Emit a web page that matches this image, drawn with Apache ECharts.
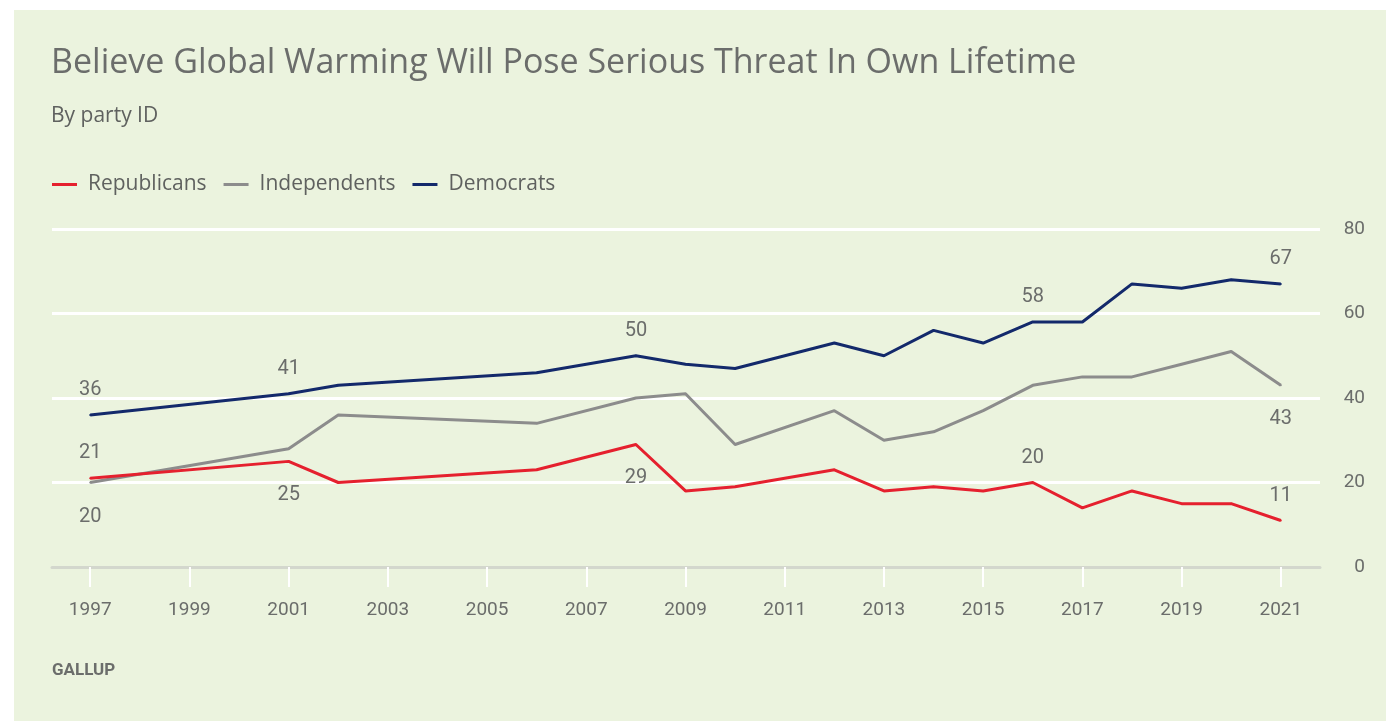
<!DOCTYPE html>
<html>
<head>
<meta charset="utf-8">
<script src="https://cdn.jsdelivr.net/npm/echarts@6/dist/echarts.min.js"></script>
<style>
html,body{margin:0;padding:0;background:#fff;}
#main{width:1386px;height:721px;background:linear-gradient(#ebf3de,#ebf3de) 14px 10px / 1372px 711px no-repeat,#fff;}
</style>
</head>
<body>
<div id="main"></div>
<script>
// ---- data ----
const years = [1997, 2001, 2002, 2006, 2008, 2009, 2010, 2012, 2013, 2014, 2015, 2016, 2017, 2018, 2019, 2020, 2021];
const republicans = [21, 25, 20, 23, 29, 18, 19, 23, 18, 19, 18, 20, 14, 18, 15, 15, 11];
const independents = [20, 28, 36, 34, 40, 41, 29, 37, 30, 32, 37, 43, 45, 45, 48, 51, 43];
const democrats = [36, 41, 43, 46, 50, 48, 47, 53, 50, 56, 53, 58, 58, 67, 66, 68, 67];
const xTickYears = [1997, 1999, 2001, 2003, 2005, 2007, 2009, 2011, 2013, 2015, 2017, 2019, 2021];
const yTicks = [0, 20, 40, 60, 80];
const seriesNames = ['Republicans', 'Independents', 'Democrats'];
// years whose value is printed on the chart
const repLabelYears = [1997, 2001, 2008, 2016, 2021];
const indLabelYears = [1997, 2021];
const demLabelYears = [1997, 2001, 2008, 2016, 2021];

// ---- styling (not data) ----
const textColor = '#6b6d6b';
const FONT = 'Roboto, "Liberation Sans", sans-serif';
const TFONT = '"Open Sans", Roboto, sans-serif';
const repLabelPos = {1997: 'top', 2001: 'bottom', 2008: 'bottom', 2016: 'top', 2021: 'top'};
const indLabelPos = {1997: 'bottom', 2021: 'bottom'};
const demLabelPos = {1997: 'top', 2001: 'top', 2008: 'top', 2016: 'top', 2021: 'top'};

function buildData(vals, labelYears, posMap) {
  return years.map((y, i) => {
    const item = { value: [y, vals[i]] };
    if (labelYears.indexOf(y) >= 0) {
      const pos = posMap[y];
      item.label = {
        show: true,
        position: pos,
        distance: pos === 'top' ? 14 : 23,
        formatter: String(vals[i]),
        color: textColor,
        fontSize: 20,
        fontFamily: FONT
      };
    }
    return item;
  });
}

const chart = echarts.init(document.getElementById('main'), null, { renderer: 'canvas' });
const colors = ['#e5202e', '#8c8c8c', '#13296b'];

function lineSeries(idx, vals, labelYears, posMap, z) {
  return {
    name: seriesNames[idx], type: 'line',
    symbol: 'circle', symbolSize: 2, showSymbol: true, showAllSymbol: true,
    itemStyle: { color: colors[idx] },
    lineStyle: { width: 3, color: colors[idx] },
    label: { show: false },
    emphasis: { disabled: true },
    data: buildData(vals, labelYears, posMap), z: z
  };
}

chart.setOption({
  backgroundColor: 'transparent',
  animation: false,
  color: colors,
  textStyle: { fontFamily: FONT },
  title: [
    {
      text: 'Believe Global Warming Will Pose Serious Threat In Own Lifetime',
      left: 51, top: 46, padding: 0,
      textStyle: { fontSize: 34, fontWeight: 'normal', color: '#6b6d6b', fontFamily: TFONT }
    },
    {
      text: 'By party ID',
      left: 51, top: 106, padding: 0,
      textStyle: { fontSize: 21, fontWeight: 'normal', color: '#5f615f', fontFamily: TFONT }
    },
    {
      text: 'GALLUP',
      left: 52, top: 662, padding: 0,
      textStyle: { fontSize: 17, fontWeight: 'bold', color: '#6b6d6b', fontFamily: FONT }
    }
  ],
  legend: {
    left: 52, top: 174, padding: 0,
    data: seriesNames,
    icon: 'rect',
    itemWidth: 25, itemHeight: 3,
    itemGap: 17,
    textStyle: { fontSize: 21, color: '#5f615f', fontFamily: TFONT, padding: [0, 0, 0, 6] }
  },
  grid: { left: 52, right: 66, top: 229, bottom: 154, outerBoundsMode: 'none', containLabel: false },
  xAxis: {
    type: 'value',
    min: 1996.23, max: 2021.79,
    splitLine: { show: false },
    axisLine: { show: true, lineStyle: { color: '#d3d7cd', width: 3 } },
    axisTick: { show: true, customValues: xTickYears, length: 20, lineStyle: { color: '#ffffff', width: 2 } },
    axisLabel: {
      customValues: xTickYears,
      margin: 34,
      fontSize: 19,
      color: textColor,
      fontFamily: FONT,
      formatter: v => String(v)
    }
  },
  yAxis: {
    type: 'value',
    position: 'right',
    min: 0, max: 80, interval: 20,
    axisLine: { show: false },
    axisTick: { show: false },
    splitLine: { show: true, lineStyle: { color: '#ffffff', width: 3 } },
    axisLabel: {
      customValues: yTicks,
      align: 'right', margin: 45,
      fontSize: 19, color: textColor, fontFamily: FONT
    }
  },
  series: [
    lineSeries(1, independents, indLabelYears, indLabelPos, 2),
    lineSeries(0, republicans, repLabelYears, repLabelPos, 3),
    lineSeries(2, democrats, demLabelYears, demLabelPos, 4)
  ]
});
</script>
</body>
</html>
